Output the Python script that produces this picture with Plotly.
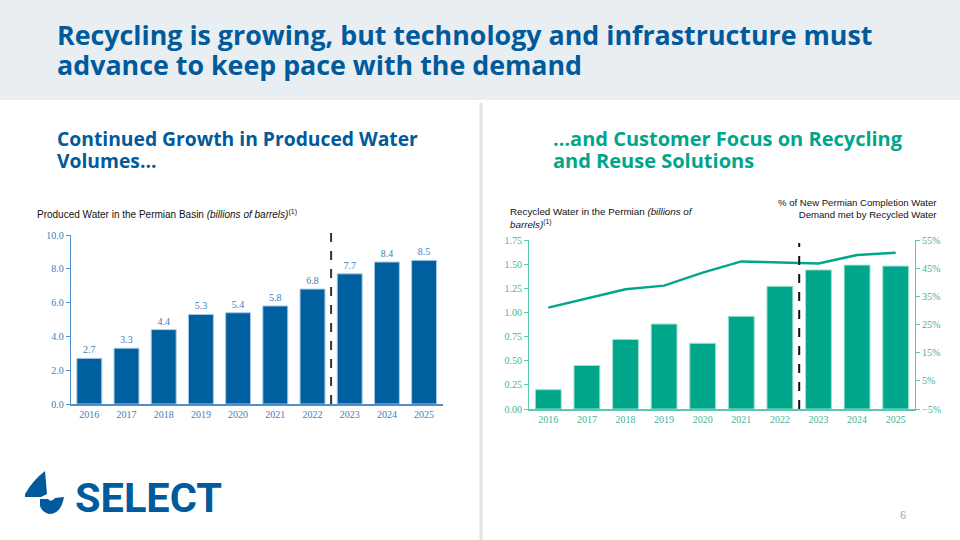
import plotly.graph_objects as go

W, H = 960, 540

years = ["2016", "2017", "2018", "2019", "2020", "2021", "2022", "2023", "2024", "2025"]
produced_water = [2.7, 3.3, 4.4, 5.3, 5.4, 5.8, 6.8, 7.7, 8.4, 8.5]
recycled_water = [0.20, 0.45, 0.72, 0.88, 0.68, 0.96, 1.27, 1.44, 1.49, 1.48]
recycled_share = [31.0, 34.3, 37.5, 38.8, 43.4, 47.4, 47.1, 46.7, 49.7, 50.5]

BLUE = "#00609f"
TEAL = "#00a68a"
TITLE_FONT = "Open Sans"
SERIF = "Liberation Serif"


def px(x):
    return x / W


def py(y):
    return 1 - y / H


fig = go.Figure()

fig.add_trace(go.Bar(
    x=years, y=produced_water, xaxis="x", yaxis="y",
    marker=dict(color=BLUE, line=dict(color="#a8c8e6", width=1)),
    text=[f"{v:.1f}" for v in produced_water], textposition="outside",
    textfont=dict(family=SERIF, size=10, color="#3f7cb8"),
    cliponaxis=False, hoverinfo="x+y",
))
fig.add_trace(go.Bar(
    x=years, y=recycled_water, xaxis="x2", yaxis="y2",
    marker=dict(color=TEAL, line=dict(color="#9fe0d2", width=1)),
    hoverinfo="x+y",
))
fig.add_trace(go.Scatter(
    x=years, y=recycled_share, xaxis="x2", yaxis="y3",
    mode="lines", line=dict(color=TEAL, width=2.5),
    hoverinfo="x+y",
))

left_tick = dict(family=SERIF, size=10, color="#3f7cb8")
right_tick = dict(family=SERIF, size=10, color="#3fb39a")

fig.update_layout(
    width=W, height=H,
    autosize=False,
    margin=dict(l=0, r=0, t=0, b=0, pad=0, autoexpand=False),
    paper_bgcolor="white", plot_bgcolor="rgba(0,0,0,0)",
    showlegend=False, bargap=0.33,
    xaxis=dict(domain=[px(70.7), px(442.7)], anchor="y", type="category",
               showline=True, linecolor="#4f8fcb", linewidth=1.5, automargin=False,
               ticks="", tickfont=left_tick, showgrid=False),
    yaxis=dict(domain=[py(404), py(235)], anchor="x", range=[0, 10], dtick=2,
               tickformat=".1f", showline=True, linecolor="#4f8fcb", linewidth=1,
               ticks="outside", ticklen=4, tickcolor="#4f8fcb", automargin=False,
               tickfont=left_tick, showgrid=False, zeroline=False),
    xaxis2=dict(domain=[px(529), px(915)], anchor="y2", type="category",
                showline=True, linecolor="#5cc8b2", linewidth=1.5, automargin=False,
                ticks="", tickfont=right_tick, showgrid=False),
    yaxis2=dict(domain=[py(409), py(240)], anchor="x2", range=[0, 1.75], dtick=0.25,
                tickformat=".2f", showline=True, linecolor="#5cc8b2", linewidth=1,
                ticks="outside", ticklen=4, tickcolor="#5cc8b2", automargin=False,
                tickfont=right_tick, showgrid=False, zeroline=False),
    yaxis3=dict(overlaying="y2", side="right", anchor="x2", range=[-5, 55],
                tick0=-5, dtick=10, automargin=False,
                ticksuffix="%", showline=True, linecolor="#5cc8b2", linewidth=1,
                ticks="outside", ticklen=4, tickcolor="#5cc8b2",
                tickfont=right_tick, showgrid=False, zeroline=False),
)

shapes = [
    # header band
    dict(type="rect", xref="paper", yref="paper", x0=-0.01, x1=1.01, y0=py(100), y1=1.02,
         fillcolor="#e9eef2", line=dict(width=0), layer="below"),
    # separator
    dict(type="line", xref="paper", yref="paper", x0=px(481), x1=px(481), y0=py(103), y1=-0.02,
         line=dict(color="#e3e3e3", width=3)),
    # forecast dividers
    dict(type="line", xref="x", yref="paper", x0=6.5, x1=6.5, y0=py(404), y1=py(229),
         line=dict(color="#333333", width=2, dash="dash")),
    dict(type="line", xref="x2", yref="paper", x0=6.5, x1=6.5, y0=py(409), y1=py(243),
         line=dict(color="#111111", width=2, dash="dash")),
]

# logo icon (drop pieces)
drop_top = (f"M {px(45)} {py(471)} L {px(47)} {py(494)} L {px(41)} {py(497)} "
            f"L {px(25)} {py(497)} L {px(25)} {py(494)} "
            f"Q {px(33)} {py(480)} {px(45)} {py(471)} Z")
drop_bot = (f"M {px(40)} {py(499)} L {px(48)} {py(499)} "
            f"Q {px(51)} {py(503)} {px(55)} {py(498)} L {px(64)} {py(497)} "
            f"Q {px(61)} {py(514)} {px(49)} {py(514)} "
            f"Q {px(42)} {py(512)} {px(40)} {py(506)} Z")
shapes.append(dict(type="path", xref="paper", yref="paper", path=drop_top,
                   fillcolor="#005a9c", line=dict(width=0)))
shapes.append(dict(type="path", xref="paper", yref="paper", path=drop_bot,
                   fillcolor="#005a9c", line=dict(width=0)))
fig.update_layout(shapes=shapes)

ann = [
    dict(text="<b>Recycling is growing, but technology and infrastructure must</b>",
         x=px(55), y=py(35), xanchor="left", yanchor="middle", align="left",
         font=dict(family=TITLE_FONT, size=26.8, color="#005a9c")),
    dict(text="<b>advance to keep pace with the demand</b>",
         x=px(55), y=py(65), xanchor="left", yanchor="middle", align="left",
         font=dict(family=TITLE_FONT, size=26.8, color="#005a9c")),
    dict(text="<b>Continued Growth in Produced Water</b>",
         x=px(55), y=py(138), xanchor="left", yanchor="middle", align="left",
         font=dict(family=TITLE_FONT, size=19.3, color="#005a9c")),
    dict(text="<b>Volumes…</b>",
         x=px(55), y=py(160), xanchor="left", yanchor="middle", align="left",
         font=dict(family=TITLE_FONT, size=19.3, color="#005a9c")),
    dict(text="<b>…and Customer Focus on Recycling</b>",
         x=px(551), y=py(138), xanchor="left", yanchor="middle", align="left",
         font=dict(family=TITLE_FONT, size=20, color=TEAL)),
    dict(text="<b>and Reuse Solutions</b>",
         x=px(551), y=py(160), xanchor="left", yanchor="middle", align="left",
         font=dict(family=TITLE_FONT, size=20, color=TEAL)),
    dict(text="Produced Water in the Permian Basin <i>(billions of barrels)</i><sup>(1)</sup>",
         x=px(35), y=py(214), xanchor="left", yanchor="middle", align="left",
         font=dict(family="Liberation Sans", size=10, color="#111111")),
    dict(text="Recycled Water in the Permian <i>(billions of</i><br><i>barrels)</i><sup>(1)</sup>",
         x=px(508), y=py(218), xanchor="left", yanchor="middle", align="left",
         font=dict(family="Liberation Sans", size=9.8, color="#111111")),
    dict(text="% of New Permian Completion Water<br>Demand met by Recycled Water",
         x=px(939), y=py(208), xanchor="right", yanchor="middle", align="right",
         font=dict(family="Liberation Sans", size=9.6, color="#111111")),
    dict(text="<b>SELECT</b>",
         x=px(73), y=py(497), xanchor="left", yanchor="middle",
         font=dict(family="Roboto", size=41.5, color="#005a9c", weight=900)),
    dict(text="6", x=px(903), y=py(515), xanchor="center", yanchor="middle",
         font=dict(family="Liberation Sans", size=11, color="#a6adbb")),
]
for a in ann:
    a.update(xref="paper", yref="paper", showarrow=False)
fig.update_layout(annotations=ann)

fig.write_html(
    "out.html",
    config={"displayModeBar": False},
    post_script="document.body.style.margin='0';document.body.style.overflow='hidden';",
)
